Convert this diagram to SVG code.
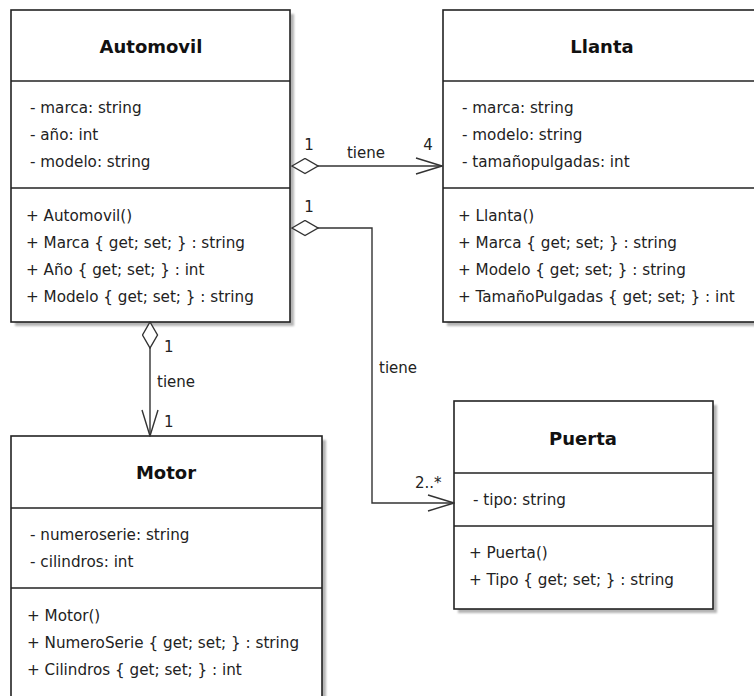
<svg xmlns="http://www.w3.org/2000/svg" width="754" height="696" viewBox="0 0 754 696">
<style>
.box{fill:#fff;stroke:#222;stroke-width:1.6}
.shadow{fill:#b4b4b4;filter:url(#blur)}
.div{stroke:#222;stroke-width:1.6}
.title{font-family:"DejaVu Sans",sans-serif;font-weight:bold;font-size:18px;fill:#111;text-anchor:middle}
.t{font-family:"DejaVu Sans",sans-serif;font-size:15.2px;fill:#222}
.lbl{font-family:"DejaVu Sans",sans-serif;font-size:15px;fill:#222}
.conn{fill:none;stroke:#333;stroke-width:1.4;marker-start:url(#diamond);marker-end:url(#arrow)}
</style>
<defs>
<filter id="blur" x="-10%" y="-10%" width="120%" height="120%"><feGaussianBlur stdDeviation="1.2"/></filter>
<marker id="arrow" markerUnits="userSpaceOnUse" viewBox="-1 -1 28 18" refX="26" refY="8" markerWidth="28" markerHeight="18" orient="auto">
<path d="M0,0 L26,8 L0,16" fill="none" stroke="#333" stroke-width="1.4"/>
</marker>
<marker id="diamond" markerUnits="userSpaceOnUse" viewBox="-1 -1 28 17" refX="0" refY="7.5" markerWidth="28" markerHeight="17" orient="auto">
<path d="M0,7.5 L13,0 L26,7.5 L13,15 Z" fill="#fff" stroke="#333" stroke-width="1.4"/>
</marker>
</defs>
<rect width="754" height="696" fill="#fff"/>

<g id="Automovil">
<rect class="shadow" x="15" y="14" width="279" height="312"/>
<rect class="box" x="11" y="10" width="279" height="312"/>
<line class="div" x1="11" y1="81" x2="290" y2="81"/>
<line class="div" x1="11" y1="188" x2="290" y2="188"/>
<text class="title" x="151" y="53">Automovil</text>
<text class="t" x="30" y="113">- marca: string</text>
<text class="t" x="30" y="140">- año: int</text>
<text class="t" x="30" y="167">- modelo: string</text>
<text class="t" x="26" y="221">+ Automovil()</text>
<text class="t" x="26" y="248">+ Marca { get; set; } : string</text>
<text class="t" x="26" y="275">+ Año { get; set; } : int</text>
<text class="t" x="26" y="302">+ Modelo { get; set; } : string</text>
</g>

<g id="Llanta">
<rect class="shadow" x="447" y="14" width="318" height="312"/>
<rect class="box" x="443" y="10" width="318" height="312"/>
<line class="div" x1="443" y1="81" x2="761" y2="81"/>
<line class="div" x1="443" y1="188" x2="761" y2="188"/>
<text class="title" x="602" y="53">Llanta</text>
<text class="t" x="462" y="113">- marca: string</text>
<text class="t" x="462" y="140">- modelo: string</text>
<text class="t" x="462" y="167">- tamañopulgadas: int</text>
<text class="t" x="458" y="221">+ Llanta()</text>
<text class="t" x="458" y="248">+ Marca { get; set; } : string</text>
<text class="t" x="458" y="275">+ Modelo { get; set; } : string</text>
<text class="t" x="458" y="302">+ TamañoPulgadas { get; set; } : int</text>
</g>

<g id="Motor">
<rect class="shadow" x="15" y="440" width="311" height="280"/>
<rect class="box" x="11" y="436" width="311" height="276"/>
<line class="div" x1="11" y1="508" x2="322" y2="508"/>
<line class="div" x1="11" y1="588" x2="322" y2="588"/>
<text class="title" x="166" y="479">Motor</text>
<text class="t" x="30" y="540">- numeroserie: string</text>
<text class="t" x="30" y="567">- cilindros: int</text>
<text class="t" x="27" y="621">+ Motor()</text>
<text class="t" x="27" y="648">+ NumeroSerie { get; set; } : string</text>
<text class="t" x="27" y="675">+ Cilindros { get; set; } : int</text>
</g>

<g id="Puerta">
<rect class="shadow" x="458" y="405" width="259" height="208"/>
<rect class="box" x="454" y="401" width="259" height="208"/>
<line class="div" x1="454" y1="473" x2="713" y2="473"/>
<line class="div" x1="454" y1="526" x2="713" y2="526"/>
<text class="title" x="583" y="445">Puerta</text>
<text class="t" x="473" y="505">- tipo: string</text>
<text class="t" x="469" y="558">+ Puerta()</text>
<text class="t" x="469" y="585">+ Tipo { get; set; } : string</text>
</g>

<g id="connectors">
<path class="conn" d="M292,166 L442,166"/>
<path class="conn" d="M292,228 L372,228 L372,503 L454,503"/>
<path class="conn" d="M150,322 L150,436"/>
<text class="lbl" x="309" y="150" text-anchor="middle">1</text>
<text class="lbl" x="366" y="158" text-anchor="middle">tiene</text>
<text class="lbl" x="428" y="150" text-anchor="middle">4</text>
<text class="lbl" x="309" y="212" text-anchor="middle">1</text>
<text class="lbl" x="379" y="373">tiene</text>
<text class="lbl" x="415" y="488">2..*</text>
<text class="lbl" x="164" y="352">1</text>
<text class="lbl" x="157" y="387">tiene</text>
<text class="lbl" x="164" y="427">1</text>
</g>
</svg>
